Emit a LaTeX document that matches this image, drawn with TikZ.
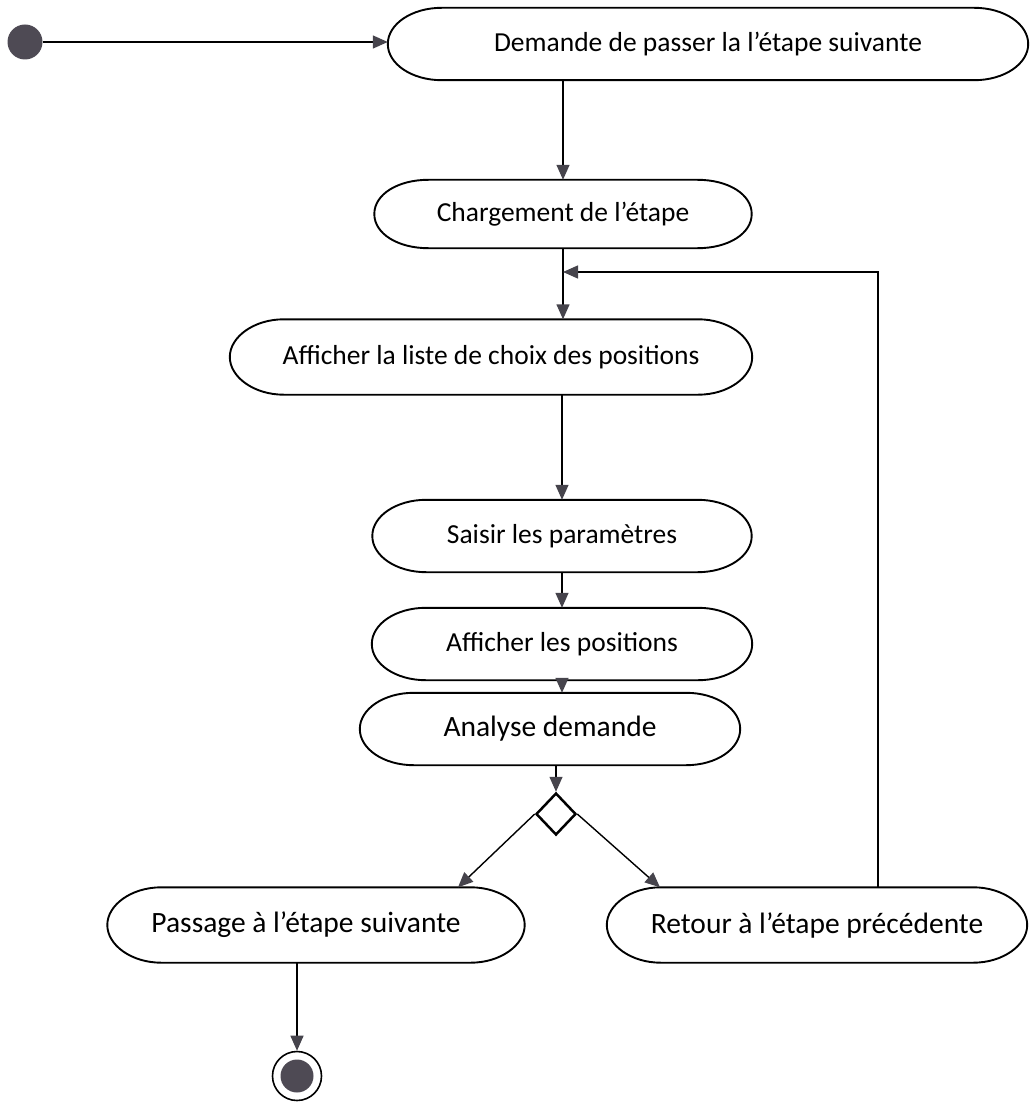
\documentclass[tikz,border=0pt]{standalone}
\usepackage{fontspec}
\setmainfont{Carlito}
\usepackage{xcolor}
\usetikzlibrary{positioning,arrows.meta,shapes.geometric}

\definecolor{dotgray}{RGB}{78,74,84}
\definecolor{tipgray}{RGB}{70,68,76}

\tikzset{
  act/.style={minimum height=72pt, inner sep=0pt, font=\fontsize{27.5}{32}\selectfont},
  bigact/.style={act, font=\fontsize{29.5}{34}\selectfont},
  flow/.style={line width=1.4pt, -{Triangle[length=15pt,width=13pt,color=tipgray]}},
}

\begin{document}
\begin{tikzpicture}[x=1pt,y=-1pt]
  \useasboundingbox (0,0) rectangle (1030,1102);

  % start and activities
  \node[circle, fill=dotgray, minimum size=35pt, inner sep=0pt] (start) at (25,42) {};
  \node[act, minimum width=640pt] (dem) at (708,44) {Demande de passer la l'étape suivante};
  \node[act, minimum width=377pt, minimum height=68pt] (charg) at (563,214) {Chargement de l'étape};
  \node[act, minimum width=522pt, minimum height=75pt] (liste) at (491,357) {Afficher la liste de choix des positions};
  \node[act, minimum width=379pt] (saisir) at (562,536) {Saisir les paramètres};
  \node[act, minimum width=380pt] (affpos) at (562,644) {Afficher les positions};
  \node[bigact, minimum width=380pt] (analyse) at (550,729) {Analyse demande};
  \node[diamond, draw, line width=2.5pt, minimum width=40pt, minimum height=42pt, inner sep=0pt] (dec) at (556,814) {};
  \node[bigact, minimum width=417pt, minimum height=75pt] (passage) at (316,925) {Passage à l'étape suivante\hspace*{20pt}};
  \node[bigact, minimum width=420pt, minimum height=75pt] (retour) at (817,925) {Retour à l'étape précédente};

  % outlines with oval ends
  \foreach \act in {dem,charg,liste,saisir,affpos,analyse,passage,retour}
    \draw[line width=1.9pt] ([xshift=54pt]\act.north west) -- ([xshift=-54pt]\act.north east)
      .. controls ([xshift=-24pt]\act.north east) and ([yshift=20pt]\act.east) .. (\act.east)
      .. controls ([yshift=-20pt]\act.east) and ([xshift=-24pt]\act.south east) .. ([xshift=-54pt]\act.south east)
      -- ([xshift=54pt]\act.south west)
      .. controls ([xshift=24pt]\act.south west) and ([yshift=-20pt]\act.west) .. (\act.west)
      .. controls ([yshift=20pt]\act.west) and ([xshift=24pt]\act.north west) .. cycle;

  % end
  \node[circle, draw, line width=1.6pt, minimum size=49pt, inner sep=0pt] (stop) at (297,1076) {};
  \node[circle, fill=dotgray, minimum size=33pt, inner sep=0pt] (stopdot) at (stop) {};

  \coordinate (join) at (563,272);

  % connectors
  \draw[flow] (start.east) -- (start.east -| dem.west);
  \draw[flow] (charg.north |- dem.south) -- (charg.north);
  \draw[flow] (charg.south) -- (charg.south |- liste.north);
  \draw[flow] (saisir.north |- liste.south) -- (saisir.north);
  \draw[flow] (saisir) -- (affpos);
  \draw[flow] (affpos.south) -- (affpos.south |- analyse.north);
  \draw[flow] (dec.north |- analyse.south) -- (dec.north);
  \draw[flow] (dec.west) -- ([xshift=142pt]passage.north);
  \draw[flow] (dec.east) -- ([xshift=-157pt]retour.north);
  \draw[flow] ([xshift=61pt]retour.north) |- (join);
  \draw[flow] (stop.north |- passage.south) -- (stop.north);
\end{tikzpicture}
\end{document}
